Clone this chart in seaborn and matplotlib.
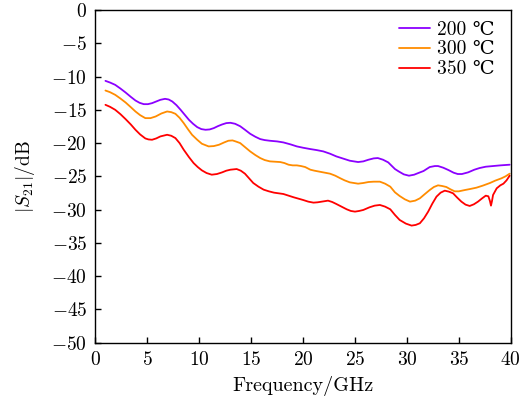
import numpy as np
import pandas as pd
import matplotlib
matplotlib.use("Agg")
import matplotlib.pyplot as plt
import seaborn as sns

# ---- data ----
freq_200 = [0.96, 1.4, 1.9, 2.4, 2.9, 3.4, 3.85, 4.25, 4.65, 5.05, 5.45, 5.85, 6.25, 6.7, 7.05,
            7.4, 7.8, 8.2, 8.6, 9.0, 9.4, 9.8, 10.2, 10.6, 11.0, 11.4, 11.8, 12.2, 12.6, 13.0,
            13.45, 13.94, 14.4, 14.9, 15.4, 15.87, 16.3, 16.8, 17.5, 18.1, 18.8, 19.4, 20.0,
            20.7, 21.3, 21.95, 22.6, 23.2, 23.9, 24.5, 25.3, 25.8, 26.3, 26.8, 27.2, 27.7, 28.2,
            28.85, 29.2, 29.7, 30.2, 30.7, 31.1, 31.6, 32.2, 32.7, 33.0, 33.5, 34.0, 34.5, 34.9,
            35.3, 35.9, 36.5, 37.0, 37.6, 38.3, 39.0, 39.9]
s21_200 = [-10.65, -10.9, -11.25, -11.8, -12.4, -13.05, -13.6, -13.95, -14.15, -14.15, -14.0,
           -13.75, -13.5, -13.35, -13.45, -13.75, -14.3, -15.0, -15.75, -16.5, -17.1, -17.6,
           -17.9, -18.0, -17.95, -17.75, -17.45, -17.2, -17.0, -16.95, -17.1, -17.47, -18.0,
           -18.6, -19.05, -19.4, -19.55, -19.65, -19.75, -19.9, -20.2, -20.5, -20.7, -20.9,
           -21.05, -21.25, -21.6, -22.0, -22.35, -22.65, -22.85, -22.75, -22.5, -22.3, -22.25,
           -22.5, -22.9, -23.9, -24.25, -24.7, -24.9, -24.75, -24.5, -24.2, -23.6, -23.45,
           -23.45, -23.7, -24.05, -24.45, -24.65, -24.65, -24.4, -24.0, -23.75, -23.55, -23.45,
           -23.35, -23.25]

freq_300 = [0.96, 1.4, 1.9, 2.4, 2.9, 3.4, 3.85, 4.3, 4.8, 5.3, 5.8, 6.35, 6.9, 7.3, 7.7, 8.1,
            8.5, 8.9, 9.3, 9.8, 10.25, 10.9, 11.4, 11.9, 12.4, 12.8, 13.2, 13.5, 13.94, 14.4,
            14.9, 15.4, 15.87, 16.3, 16.8, 17.3, 17.8, 18.2, 18.6, 19.0, 19.4, 19.8, 20.2, 20.7,
            21.1, 21.6, 22.1, 22.6, 23.1, 23.6, 24.0, 24.5, 25.3, 25.8, 26.3, 26.8, 27.4, 27.9,
            28.4, 28.85, 29.3, 29.8, 30.3, 30.8, 31.25, 31.7, 32.2, 32.6, 33.0, 33.4, 33.8, 34.2,
            34.6, 35.0, 35.6, 36.1, 36.7, 37.3, 38.0, 38.5, 39.1, 39.5, 39.9]
s21_300 = [-12.1, -12.35, -12.75, -13.3, -13.9, -14.6, -15.25, -15.8, -16.25, -16.25, -16.0,
           -15.55, -15.25, -15.35, -15.6, -16.2, -17.0, -17.9, -18.75, -19.5, -20.1, -20.5,
           -20.45, -20.25, -19.9, -19.65, -19.6, -19.75, -20.0, -20.6, -21.25, -21.8, -22.25,
           -22.55, -22.75, -22.8, -22.85, -23.0, -23.25, -23.35, -23.35, -23.45, -23.6, -24.0,
           -24.15, -24.3, -24.45, -24.6, -24.9, -25.3, -25.6, -25.9, -26.1, -26.0, -25.85,
           -25.8, -25.8, -26.1, -26.55, -27.4, -27.95, -28.45, -28.8, -28.65, -28.3, -27.7,
           -27.05, -26.6, -26.35, -26.45, -26.6, -26.95, -27.25, -27.25, -27.05, -26.9, -26.7,
           -26.4, -26.0, -25.65, -25.3, -25.0, -24.6]

freq_350 = [0.96, 1.4, 1.9, 2.4, 2.9, 3.4, 3.85, 4.3, 4.8, 5.1, 5.45, 5.85, 6.25, 6.9, 7.3, 7.7,
            8.1, 8.5, 9.0, 9.45, 9.85, 10.25, 10.7, 11.2, 11.7, 12.2, 12.6, 13.0, 13.6, 14.0,
            14.4, 14.8, 15.2, 15.7, 16.2, 16.7, 17.2, 18.1, 18.6, 19.1, 19.55, 20.0, 20.5, 21.0,
            21.4, 21.8, 22.4, 22.8, 23.2, 23.7, 24.2, 24.6, 25.0, 25.4, 25.8, 26.4, 26.9, 27.4,
            27.9, 28.4, 28.85, 29.3, 29.9, 30.45, 30.85, 31.25, 31.65, 32.05, 32.45, 32.85,
            33.25, 33.65, 34.05, 34.45, 34.85, 35.25, 35.65, 36.05, 36.45, 36.85, 37.25, 37.6,
            37.85, 38.0, 38.1, 38.2, 38.3, 38.65, 39.0, 39.3, 39.6, 39.9]
s21_350 = [-14.25, -14.55, -15.0, -15.65, -16.4, -17.2, -18.0, -18.7, -19.3, -19.45, -19.5,
           -19.3, -19.0, -18.75, -18.9, -19.25, -20.0, -21.0, -22.1, -23.0, -23.6, -24.1, -24.5,
           -24.75, -24.65, -24.4, -24.15, -24.0, -23.9, -24.15, -24.6, -25.3, -26.0, -26.55,
           -27.0, -27.25, -27.45, -27.65, -27.9, -28.15, -28.35, -28.55, -28.8, -28.95, -28.9,
           -28.8, -28.65, -28.85, -29.15, -29.55, -29.95, -30.2, -30.3, -30.2, -30.05, -29.65,
           -29.4, -29.3, -29.55, -29.95, -30.8, -31.55, -32.1, -32.4, -32.3, -32.05, -31.3,
           -30.3, -29.1, -28.05, -27.45, -27.15, -27.3, -27.55, -28.2, -28.8, -29.25, -29.45,
           -29.2, -28.8, -28.3, -27.9, -28.0, -28.7, -29.4, -28.7, -27.8, -26.8, -26.35, -26.1,
           -25.6, -24.9]

labels = ["200 ℃", "300 ℃", "350 ℃"]
colors = ["#8B00FF", "#FF8C00", "#FF0000"]

frames = []
for lab, f, s in zip(labels, [freq_200, freq_300, freq_350], [s21_200, s21_300, s21_350]):
    frames.append(pd.DataFrame({"freq": f, "s21": s, "series": lab}))
df = pd.concat(frames, ignore_index=True)

sns.set_theme(style="white")
plt.rcParams["font.family"] = ["cmr10", "DejaVu Serif"]
plt.rcParams["mathtext.fontset"] = "cm"
plt.rcParams["axes.formatter.use_mathtext"] = True
plt.rcParams["axes.unicode_minus"] = True

fig = plt.figure(figsize=(5.29, 4.03), dpi=100)
ax = fig.add_axes([0.1805, 0.1496, 0.7849, 0.8256])

sns.lineplot(data=df, x="freq", y="s21", hue="series", palette=colors, hue_order=labels,
             estimator=None, sort=False, lw=1.3, ax=ax,
             solid_joinstyle="round", solid_capstyle="round")

ax.set_xlim(0, 40)
ax.set_ylim(-50, 0)
ax.set_xticks(np.arange(0, 41, 5))
ax.set_yticks(np.arange(-50, 1, 5))
ax.tick_params(direction="in", length=4, width=1, labelsize=14, colors="black", pad=6,
               bottom=True, left=True, top=False, right=False)
for sp in ax.spines.values():
    sp.set_color("black")
    sp.set_linewidth(1.0)

ax.set_xlabel("Frequency/GHz", fontsize=14.5, color="black", labelpad=5)
ax.set_ylabel(r"$|S_{21}|$/dB", fontsize=14, color="black")
ax.yaxis.set_label_coords(-0.14, 0.5)

leg = ax.legend(loc="upper right", bbox_to_anchor=(0.988, 1.0), frameon=False, fontsize=14,
                handlelength=1.6, handletextpad=0.36, labelspacing=0.1, borderaxespad=0.15)
for t in leg.get_texts():
    t.set_color("black")

fig.savefig("out.png", dpi=100)
